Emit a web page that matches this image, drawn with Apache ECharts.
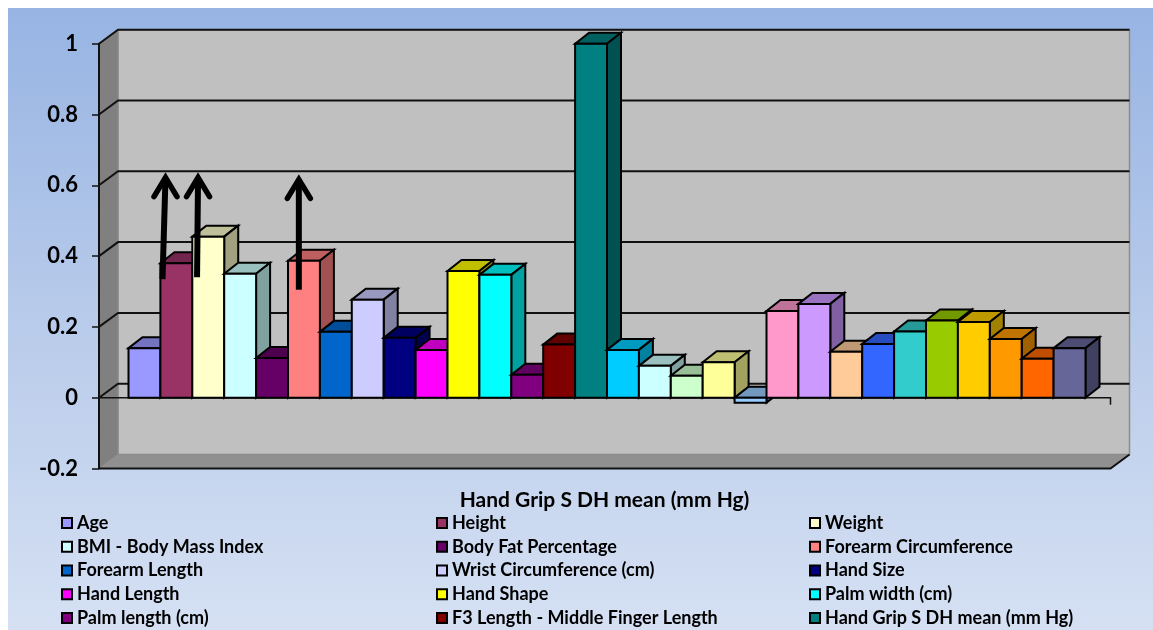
<!DOCTYPE html>
<html>
<head>
<meta charset="utf-8">
<style>html,body{margin:0;padding:0;background:#fff}#c{width:1153px;height:630px}</style>
<script src="https://cdn.jsdelivr.net/npm/echarts@6/dist/echarts.min.js"></script>
</head>
<body>
<div id="c"></div>
<script>
const legendCol1 = ['Age', 'BMI - Body Mass Index', 'Forearm Length', 'Hand Length', 'Palm length (cm)'];
const legendCol2 = ['Height', 'Body Fat Percentage', 'Wrist Circumference (cm)', 'Hand Shape', 'F3 Length - Middle Finger Length'];
const legendCol3 = ['Weight', 'Forearm Circumference', 'Hand Size', 'Palm width (cm)', 'Hand Grip S DH mean (mm Hg)'];
const seriesNames = ['Age', 'Height', 'Weight', 'BMI - Body Mass Index', 'Body Fat Percentage', 'Forearm Circumference',
  'Forearm Length', 'Wrist Circumference (cm)', 'Hand Size', 'Hand Length', 'Hand Shape', 'Palm width (cm)',
  'Palm length (cm)', 'F3 Length - Middle Finger Length', 'Hand Grip S DH mean (mm Hg)',
  'Unlabelled 16', 'Unlabelled 17', 'Unlabelled 18', 'Unlabelled 19', 'Unlabelled 20', 'Unlabelled 21', 'Unlabelled 22',
  'Unlabelled 23', 'Unlabelled 24', 'Unlabelled 25', 'Unlabelled 26', 'Unlabelled 27', 'Unlabelled 28', 'Unlabelled 29', 'Unlabelled 30'];
const seriesValues = [0.14, 0.38, 0.455, 0.35, 0.112, 0.387, 0.186, 0.277, 0.169, 0.135, 0.358, 0.347, 0.065, 0.15, 1.0,
  0.135, 0.09, 0.062, 0.10, -0.014, 0.245, 0.265, 0.13, 0.152, 0.187, 0.218, 0.214, 0.166, 0.11, 0.14];
const seriesColors = ['#9999FF', '#993366', '#FFFFCC', '#CCFFFF', '#660066', '#FF8080', '#0066CC', '#CCCCFF', '#000080', '#FF00FF',
  '#FFFF00', '#00FFFF', '#800080', '#800000', '#008080', '#00CCFF', '#CCFFFF', '#CCFFCC', '#FFFF99', '#99CCFF',
  '#FF99CC', '#CC99FF', '#FFCC99', '#3366FF', '#33CCCC', '#99CC00', '#FFCC00', '#FF9900', '#FF6600', '#666699'];
const yTicks = [-0.2, 0, 0.2, 0.4, 0.6, 0.8, 1];
// arrows: bar index, horizontal shift in bar widths, start value, tip value
const arrows = [[1, -0.34, 0.335, 0.63], [2, -0.32, 0.34, 0.63], [5, -0.16, 0.305, 0.625]];

function shade(hex, f) {
  const n = parseInt(hex.slice(1), 16);
  const c = [(n >> 16) & 255, (n >> 8) & 255, n & 255].map(v => Math.round(v * f));
  return 'rgb(' + c.join(',') + ')';
}
const WALL = [19, -14], BAR = [14, -11], LEFT_EXT = 29.5, RIGHT_EXT = 25;
function poly(points, fill, stroke, width) {
  return { type: 'polygon', shape: { points }, style: { fill, stroke: stroke || null, lineWidth: width || 0 } };
}
function line(points, stroke, width) {
  return { type: 'polyline', shape: { points }, style: { fill: null, stroke, lineWidth: width, lineJoin: 'miter' } };
}
function extents(api) {
  const band = api.size([1, 0])[0];
  return [api.coord([0, 0])[0] - band / 2 - LEFT_EXT, api.coord([seriesNames.length - 1, 0])[0] + band / 2 + RIGHT_EXT];
}
function renderWalls(params, api) {
  const [xl, xr] = extents(api);
  const top = api.coord([0, 1])[1], bot = api.coord([0, -0.2])[1];
  const dx = WALL[0], dy = WALL[1];
  return { type: 'group', children: [
    poly([[xl + dx, top + dy], [xr + dx, top + dy], [xr + dx, bot + dy], [xl + dx, bot + dy]], '#C0C0C0', '#8C8C8C', 1.5),
    poly([[xl, top], [xl + dx, top + dy], [xl + dx, bot + dy], [xl, bot]], '#808080', '#8C8C8C', 1),
    poly([[xl, bot], [xl + dx, bot + dy], [xr + dx, bot + dy], [xr, bot]], '#909090', '#8C8C8C', 1),
    line([[xr + dx, bot + dy], [xr, bot], [xl, bot]], '#111', 2)
  ] };
}
function renderGridLine(params, api) {
  const v = api.value(1);
  if (v === -0.2) return null;
  const [xl, xr] = extents(api);
  const y = api.coord([0, v])[1];
  return line([[xl, y], [xl + WALL[0], y + WALL[1]], [xr + WALL[0], y + WALL[1]]], '#111', 2);
}
function renderZero(params, api) {
  const [xl, xr] = extents(api);
  const y = api.coord([0, 0])[1];
  return line([[xl, y], [xr, y], [xr, y + 7]], '#111', 1.5);
}
function renderBar(params, api) {
  const i = api.value(0), v = api.value(1);
  const c = api.coord([i, v]), z = api.coord([i, 0]);
  const band = api.size([1, 0])[0];
  const x0 = c[0] - band / 2, x1 = c[0] + band / 2;
  const yt = Math.min(c[1], z[1]), yb = Math.max(c[1], z[1]);
  const col = seriesColors[i];
  const dx = BAR[0], dy = BAR[1], lw = 2;
  return { type: 'group', children: [
    poly([[x0, yt], [x0 + dx, yt + dy], [x1 + dx, yt + dy], [x1, yt]], shade(col, 0.75), '#000', lw),
    poly([[x1, yt], [x1 + dx, yt + dy], [x1 + dx, yb + dy], [x1, yb]], shade(col, 0.63), '#000', lw),
    poly([[x0, yt], [x1, yt], [x1, yb], [x0, yb]], col, '#000', lw)
  ] };
}
function renderArrow(params, api) {
  const i = api.value(0), shift = api.value(1), from = api.value(2), to = api.value(3);
  const band = api.size([1, 0])[0];
  const x = api.coord([i, 0])[0] + shift * band;
  const yb = api.coord([i, from])[1], yt = api.coord([i, to])[1];
  const tilt = from < 0.32 ? 0 : (i === 1 ? 3 : 1);
  return { type: 'group', children: [
    { type: 'line', shape: { x1: x - tilt, y1: yb, x2: x, y2: yt + 3 }, style: { stroke: '#000', lineWidth: 6 } },
    { type: 'polyline', shape: { points: [[x - 11.5, yt + 22], [x, yt + 3], [x + 11.5, yt + 22]] },
      style: { fill: null, stroke: '#000', lineWidth: 5.5, lineCap: 'round', lineJoin: 'miter' } }
  ] };
}

const FONT = 'Lato';
const legendBase = {
  orient: 'vertical', top: 513.5, padding: 0, itemWidth: 10, itemHeight: 10, itemGap: 4.75, icon: 'rect',
  selectedMode: false,
  itemStyle: { borderColor: '#000', borderWidth: 2 },
  textStyle: { fontFamily: FONT, fontWeight: 'bold', fontSize: 18, color: '#000', height: 19, lineHeight: 19 }
};
const barSeries = seriesNames.map((name, i) => ({
  type: 'custom', name, renderItem: renderBar, z: 3,
  itemStyle: { color: seriesColors[i] },
  encode: { x: 0, y: 1 }, data: [[i, seriesValues[i]]]
}));

const chart = echarts.init(document.getElementById('c'), null, { renderer: 'canvas' });
chart.setOption({
  animation: false,
  textStyle: { fontFamily: FONT },
  graphic: [{ type: 'rect', z: -100, silent: true, shape: { x: 8, y: 8, width: 1145, height: 622 },
    style: { fill: new echarts.graphic.LinearGradient(0, 0, 0, 1, [
      { offset: 0, color: '#97B4E3' }, { offset: 0.55, color: '#BBCDEB' }, { offset: 1, color: '#D5E0F3' }]) } }],
  grid: { left: 128.5, right: 1153 - 1085.5, top: 43.7, bottom: 630 - 468.5 },
  xAxis: {
    type: 'category', data: seriesNames, position: 'bottom',
    axisLine: { show: false }, axisTick: { show: false }, axisLabel: { show: false }, splitLine: { show: false },
    name: 'Hand Grip S DH mean (mm Hg)', nameLocation: 'middle', nameGap: 21,
    nameTextStyle: { fontFamily: FONT, fontWeight: 'bold', fontSize: 21, color: '#000', padding: [0, 5, 0, 0], verticalAlign: 'top' }
  },
  yAxis: {
    type: 'value', min: -0.2, max: 1, interval: 0.2, offset: 29.5, z: 10,
    axisLine: { show: true, onZero: false, lineStyle: { color: '#111', width: 2 } },
    axisTick: { show: true, length: 7, lineStyle: { color: '#111', width: 1.5 } },
    splitLine: { show: false },
    axisLabel: { margin: 21, fontFamily: FONT, fontWeight: 'bold', fontSize: 22, color: '#000', padding: [3, 0, 0, 0],
      formatter: v => String(Math.round(v * 10) / 10) }
  },
  legend: [
    Object.assign({}, legendBase, { left: 61, data: legendCol1 }),
    Object.assign({}, legendBase, { left: 436, data: legendCol2 }),
    Object.assign({}, legendBase, { left: 809, data: legendCol3 })
  ],
  series: [
    { type: 'custom', name: 'walls', renderItem: renderWalls, z: 1, silent: true, encode: { x: 0, y: 1 }, data: [[0, 0]] },
    { type: 'custom', name: 'gridlines', renderItem: renderGridLine, z: 2, silent: true, encode: { x: 0, y: 1 }, data: yTicks.map(t => [0, t]) },
    { type: 'custom', name: 'zero', renderItem: renderZero, z: 2, silent: true, encode: { x: 0, y: 1 }, data: [[0, 0]] },
    ...barSeries,
    { type: 'custom', name: 'arrows', renderItem: renderArrow, z: 5, silent: true, encode: { x: 0, y: 3 }, data: arrows }
  ]
});
</script>
</body>
</html>
